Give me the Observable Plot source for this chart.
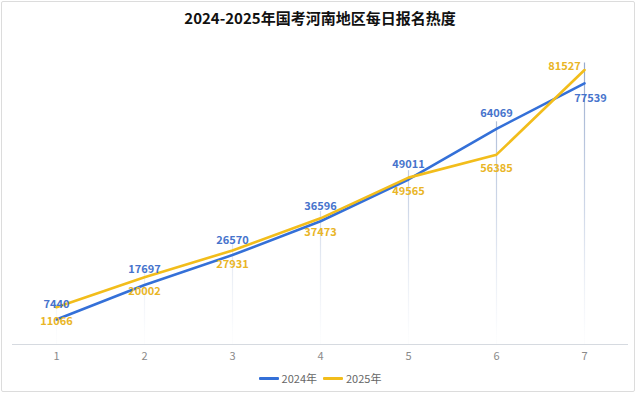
<!DOCTYPE html>
<html>
<head>
<meta charset="utf-8">
<script src="https://cdn.jsdelivr.net/npm/d3@7"></script>
<script src="https://cdn.jsdelivr.net/npm/@observablehq/plot@0.6"></script>
<style>
  html, body { margin: 0; padding: 0; background: #fff; }
  body { width: 640px; height: 401px; position: relative; overflow: hidden;
         font-family: "Noto Sans CJK SC", "Noto Sans", sans-serif; }
  #frame { position: absolute; left: 1px; top: 1px; width: 634px; height: 391px;
           border: 1px solid #dcdcdc; border-radius: 2px; box-sizing: border-box; }
  #title { position: absolute; left: 0; top: 6px; width: 640px; text-align: center;
           font-size: 15px; font-weight: bold; color: #111; line-height: 24px; }
  #chart { position: absolute; left: 0; top: 35px; }
  #legend { position: absolute; left: 0; top: 370px; width: 640px; display: flex;
            justify-content: center; align-items: center; font-size: 11px; color: #666; line-height: 16px; }
  .sw { display: inline-block; width: 20px; height: 3px; margin-right: 3px; border-radius: 1px; }
  .item { display: flex; align-items: center; margin: 0 3px; }
</style>
</head>
<body>
<div id="frame"></div>
<div id="title"></div>
<div id="chart"></div>
<div id="legend"></div>
<script>
const titleText = "2024-2025年国考河南地区每日报名热度";
const days = [1, 2, 3, 4, 5, 6, 7];
const series2024 = [7440, 17697, 26570, 36596, 49011, 64069, 77539];
const series2025 = [11066, 20002, 27931, 37473, 49565, 56385, 81527];
const seriesNames = ["2024年", "2025年"];
const colors = ["#3470d8", "#f2bd1b"];
const textColors = ["#4673cc", "#e9b526"];

document.getElementById("title").textContent = titleText;

const rows = [];
days.forEach((d, i) => {
  rows.push({day: d, value: series2024[i], s: seriesNames[0], i});
  rows.push({day: d, value: series2025[i], s: seriesNames[1], i});
});
const r24 = rows.filter(r => r.s === seriesNames[0]);
const r25 = rows.filter(r => r.s === seriesNames[1]);
const drops = days.map((d, i) => ({day: d, top: Math.max(series2024[i], series2025[i])}));
const last = days.length - 1;

const H = 330, MT = 6, MB = 21;
const gradTop = 20, gradBot = H - MB - 6;

const defs = () => {
  const g = d3.create("svg:defs");
  const lg = g.append("linearGradient").attr("id", "dropGrad")
    .attr("gradientUnits", "userSpaceOnUse")
    .attr("x1", 0).attr("x2", 0).attr("y1", gradTop).attr("y2", gradBot);
  lg.append("stop").attr("offset", "0%").attr("stop-color", "#8ea3c9").attr("stop-opacity", 0.95);
  lg.append("stop").attr("offset", "55%").attr("stop-color", "#a9b9d6").attr("stop-opacity", 0.55);
  lg.append("stop").attr("offset", "100%").attr("stop-color", "#c8d3e6").attr("stop-opacity", 0.05);
  return g.node();
};

const chart = Plot.plot({
  width: 640,
  height: H,
  marginTop: MT,
  marginBottom: MB,
  marginLeft: 12,
  marginRight: 12,
  style: {fontFamily: '"Noto Sans CJK SC", "Noto Sans", sans-serif', background: "transparent"},
  x: {type: "linear", domain: [0.5, 7.5], axis: null, label: null},
  y: {domain: [0, 90000], axis: null},
  marks: [
    defs,
    Plot.ruleX(drops, {x: "day", y1: 0, y2: "top", stroke: "url(#dropGrad)", strokeWidth: 1.2, insetBottom: 7}),
    Plot.ruleY([0], {stroke: "#d6dae0", strokeWidth: 1}),
    Plot.axisX({ticks: days, tickSize: 0, tickPadding: 8, label: null, tickFormat: d => String(d), fontSize: 11, color: "#8a8a8a"}),
    Plot.line(r24, {x: "day", y: "value", stroke: colors[0], strokeWidth: 2.6, curve: "linear"}),
    Plot.line(r25, {x: "day", y: "value", stroke: colors[1], strokeWidth: 2.6, curve: "linear"}),
    Plot.text(r24.filter(r => r.i !== last), {x: "day", y: "value", text: d => String(d.value), dy: -15, fill: textColors[0], fontSize: 11, fontWeight: "bold"}),
    Plot.text(r25.filter(r => r.i !== last), {x: "day", y: "value", text: d => String(d.value), dy: 14, fill: textColors[1], fontSize: 11, fontWeight: "bold"}),
    Plot.text(r25.filter(r => r.i === last), {x: "day", y: "value", text: d => String(d.value), dx: -20, dy: -4, fill: textColors[1], fontSize: 11, fontWeight: "bold"}),
    Plot.text(r24.filter(r => r.i === last), {x: "day", y: "value", text: d => String(d.value), dx: 6, dy: 15, fill: textColors[0], fontSize: 11, fontWeight: "bold"})
  ]
});
document.getElementById("chart").appendChild(chart);

const legend = document.getElementById("legend");
seriesNames.forEach((n, k) => {
  const it = document.createElement("span");
  it.className = "item";
  const sw = document.createElement("span");
  sw.className = "sw";
  sw.style.background = colors[k];
  it.appendChild(sw);
  const t = document.createElement("span");
  t.textContent = n;
  it.appendChild(t);
  legend.appendChild(it);
});
</script>
</body>
</html>
